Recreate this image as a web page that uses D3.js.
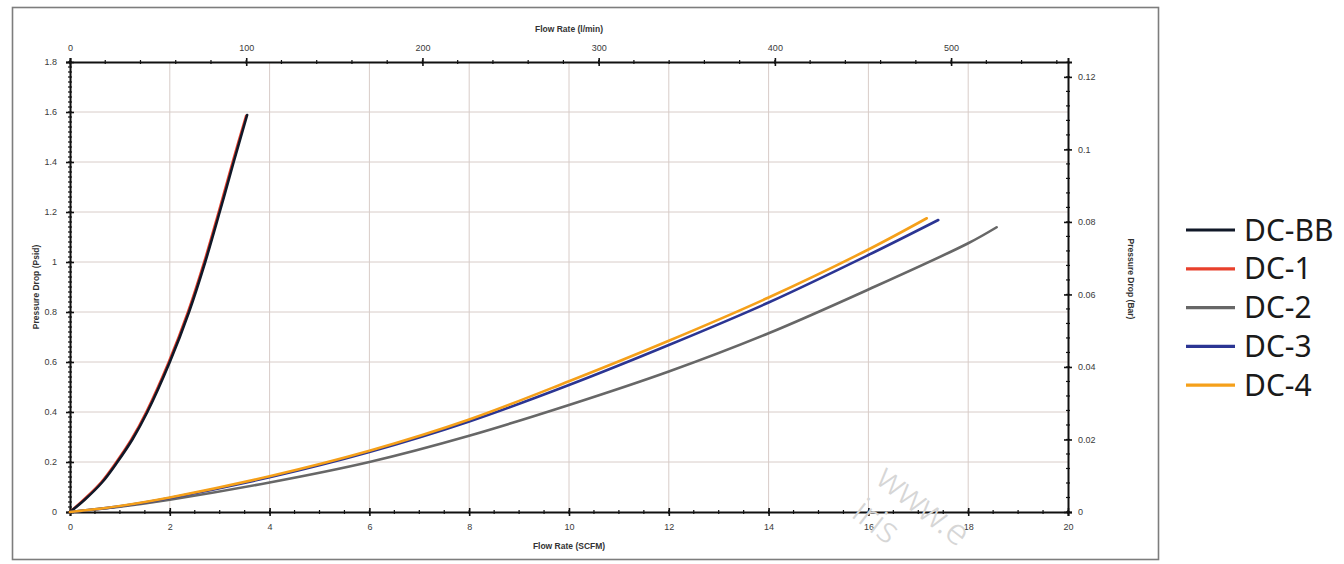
<!DOCTYPE html>
<html>
<head>
<meta charset="utf-8">
<script src="https://cdn.jsdelivr.net/npm/d3@7"></script>
<style>
    body { margin: 0; background: #fff; }
    .tick text { font-family: "Liberation Sans", sans-serif; font-size: 9px; fill: #3a3a3a; }
    .axis-title { font-family: "Liberation Sans", sans-serif; font-size: 8.5px; font-weight: bold; fill: #333; }
    .legend text { font-family: "Noto Sans", sans-serif; font-size: 30px; fill: #1a1a1a; }
</style>
</head>
<body>
<div id="chart"></div>
<script>
// series names & colours
const seriesNames = ['DC-BB', 'DC-1', 'DC-2', 'DC-3', 'DC-4'];
const seriesColors = ['#101828', '#e8402c', '#676767', '#2b3593', '#f5a01a'];

// flow rate (SCFM) / pressure drop (psid)
const dcBBFlow = [0, 0.3, 0.65, 0.95, 1.25, 1.55, 2.0, 2.385, 2.71, 3.0, 3.28, 3.55];
const dcBBDrop = [0, 0.05, 0.12, 0.2, 0.29, 0.4, 0.6, 0.8, 1.0, 1.2, 1.4, 1.588];
const dc1Flow = [0, 0.28, 0.63, 0.93, 1.23, 1.53, 1.98, 2.365, 2.69, 2.98, 3.26, 3.53];
const dc1Drop = [0, 0.05, 0.12, 0.2, 0.29, 0.4, 0.6, 0.8, 1.0, 1.2, 1.4, 1.585];
const dc2Flow = [0, 1, 2, 4, 6, 8, 10, 12, 14, 16, 18, 18.57];
const dc2Drop = [0, 0.021, 0.049, 0.118, 0.2, 0.305, 0.428, 0.562, 0.715, 0.89, 1.075, 1.139];
const dc3Flow = [0, 1, 2, 4, 6, 8, 10, 12, 14, 16, 17.4];
const dc3Drop = [0, 0.023, 0.056, 0.139, 0.24, 0.362, 0.508, 0.668, 0.838, 1.028, 1.168];
const dc4Flow = [0, 1, 2, 4, 6, 8, 10, 12, 14, 16, 17.17];
const dc4Drop = [0, 0.024, 0.058, 0.143, 0.245, 0.37, 0.523, 0.685, 0.858, 1.05, 1.175];

// axis ticks
const scfmTicks = [0, 2, 4, 6, 8, 10, 12, 14, 16, 18, 20];
const lpmTicks = [0, 100, 200, 300, 400, 500];
const psidTicks = [0, 0.2, 0.4, 0.6, 0.8, 1, 1.2, 1.4, 1.6, 1.8];
const barTicks = [0, 0.02, 0.04, 0.06, 0.08, 0.1, 0.12];

const LPM_PER_SCFM = 28.3168;
const BAR_PER_PSI = 0.0689476;

class PressureChart {
    constructor(_config) {
        this.config = {
            parentElement: _config.parentElement,
            containerWidth: _config.containerWidth || 1344,
            containerHeight: _config.containerHeight || 564,
            margin: _config.margin || { top: 62, right: 276, bottom: 52, left: 70 }
        }
        const values = [[dcBBFlow, dcBBDrop], [dc1Flow, dc1Drop], [dc2Flow, dc2Drop], [dc3Flow, dc3Drop], [dc4Flow, dc4Drop]];
        this.series = seriesNames.map((name, i) => ({
            name: name,
            color: seriesColors[i],
            points: d3.zip(values[i][0], values[i][1])
        }));
        this.initVis();
    }

    initVis() {
        let vis = this;
        vis.width = vis.config.containerWidth - vis.config.margin.left - vis.config.margin.right;
        vis.height = vis.config.containerHeight - vis.config.margin.top - vis.config.margin.bottom;

        vis.svg = d3.select(vis.config.parentElement).append('svg')
            .attr('width', vis.config.containerWidth)
            .attr('height', vis.config.containerHeight);

        // outer frame
        vis.svg.append('rect')
            .attr('x', 12.5).attr('y', 7.5)
            .attr('width', 1146).attr('height', 552)
            .attr('fill', 'none')
            .attr('stroke', '#7d7d7d')
            .attr('stroke-width', 1.6);

        vis.chart = vis.svg.append('g')
            .attr('transform', `translate(${vis.config.margin.left},${vis.config.margin.top})`);

        vis.x = d3.scaleLinear().domain([0, 20]).range([0, vis.width]);
        vis.xTop = d3.scaleLinear().domain([0, 20 * LPM_PER_SCFM]).range([0, vis.width]);
        vis.y = d3.scaleLinear().domain([0, 1.8]).range([vis.height, 0]);
        vis.yRight = d3.scaleLinear().domain([0, 1.8 * BAR_PER_PSI]).range([vis.height, 0]);

        vis.updateVis();
    }

    updateVis() {
        let vis = this;
        vis.line = d3.line()
            .x(d => vis.x(d[0]))
            .y(d => vis.y(d[1]))
            .curve(d3.curveCatmullRom.alpha(0.5));
        vis.renderVis();
    }

    renderVis() {
        let vis = this;

        // grid
        vis.chart.append('g')
            .selectAll('line')
            .data(scfmTicks.slice(1, -1))
            .join('line')
            .attr('x1', d => vis.x(d)).attr('x2', d => vis.x(d))
            .attr('y1', 0).attr('y2', vis.height)
            .attr('stroke', '#d8ccc8').attr('stroke-width', 1);
        vis.chart.append('g')
            .selectAll('line')
            .data(psidTicks.slice(1, -1))
            .join('line')
            .attr('x1', 0).attr('x2', vis.width)
            .attr('y1', d => vis.y(d)).attr('y2', d => vis.y(d))
            .attr('stroke', '#d8ccc8').attr('stroke-width', 1);

        // minor ticks
        const minor = (g, scale, step, max, orient) => {
            const vals = d3.range(0, max + 1e-9, step);
            g.selectAll('line.minor').data(vals).join('line')
                .attr('class', 'minor')
                .attr('stroke', '#111').attr('stroke-width', 1.2)
                .each(function (d) {
                    const s = d3.select(this);
                    if (orient === 'h') s.attr('x1', scale(d)).attr('x2', scale(d)).attr('y1', -2).attr('y2', 2);
                    else s.attr('y1', scale(d)).attr('y2', scale(d)).attr('x1', -2).attr('x2', 2);
                });
        };
        const fmt = d => String(+d.toFixed(2));

        // bottom axis
        const gBottom = vis.chart.append('g').attr('transform', `translate(0,${vis.height})`);
        minor(gBottom, vis.x, 0.5, 20, 'h');
        gBottom.call(d3.axisBottom(vis.x).tickValues(scfmTicks).tickFormat(d3.format('d')).tickSize(4).tickPadding(8));

        // top axis
        const gTop = vis.chart.append('g');
        minor(gTop, vis.xTop, 20, 20 * LPM_PER_SCFM, 'h');
        gTop.call(d3.axisTop(vis.xTop).tickValues(lpmTicks).tickFormat(d3.format('d')).tickSize(4).tickPadding(7));

        // left axis
        const gLeft = vis.chart.append('g');
        minor(gLeft, vis.y, 0.02, 1.8, 'v');
        gLeft.call(d3.axisLeft(vis.y).tickValues(psidTicks).tickFormat(fmt).tickSize(4).tickPadding(9));

        // right axis
        const gRight = vis.chart.append('g').attr('transform', `translate(${vis.width},0)`);
        minor(gRight, vis.yRight, 0.004, 1.8 * BAR_PER_PSI, 'v');
        gRight.call(d3.axisRight(vis.yRight).tickValues(barTicks).tickFormat(fmt).tickSize(4).tickPadding(6));

        [gBottom, gTop, gLeft, gRight].forEach(g => {
            g.select('.domain').attr('stroke', '#111').attr('stroke-width', 2);
            g.selectAll('.tick line').attr('stroke', '#111').attr('stroke-width', 1.6);
        });
        // major ticks cross the axis line
        gBottom.selectAll('.tick line').attr('y1', -4).attr('y2', 4);
        gTop.selectAll('.tick line').attr('y1', -4).attr('y2', 4);
        gLeft.selectAll('.tick line').attr('x1', -4).attr('x2', 4);
        gRight.selectAll('.tick line').attr('x1', -4).attr('x2', 4);

        // axis titles
        vis.chart.append('text').attr('class', 'axis-title')
            .attr('x', vis.width / 2).attr('y', -30).attr('text-anchor', 'middle')
            .text('Flow Rate (l/min)');
        vis.chart.append('text').attr('class', 'axis-title')
            .attr('x', vis.width / 2).attr('y', vis.height + 37).attr('text-anchor', 'middle')
            .text('Flow Rate (SCFM)');
        vis.chart.append('text').attr('class', 'axis-title')
            .attr('transform', `translate(-31,${vis.height / 2}) rotate(-90)`)
            .attr('text-anchor', 'middle')
            .text('Pressure Drop (Psid)');
        vis.chart.append('text').attr('class', 'axis-title')
            .attr('transform', `translate(${vis.width + 60},${vis.height / 2 - 8}) rotate(90)`)
            .attr('text-anchor', 'middle')
            .text('Pressure Drop (Bar)');

        // watermark
        const wm = vis.svg.append('g').attr('fill', '#d6d6d6').attr('font-family', 'Noto Sans, sans-serif')
            .attr('font-size', 36).attr('font-weight', 300);
        wm.append('text').attr('transform', 'translate(874,482) rotate(38)').text('www.e');
        wm.append('text').attr('transform', 'translate(850,516) rotate(38)').text('iris');

        // curves (red first, black on top of it)
        const order = [1, 0, 2, 3, 4];
        vis.chart.append('g')
            .selectAll('path')
            .data(order.map(i => vis.series[i]))
            .join('path')
            .attr('d', d => vis.line(d.points))
            .attr('fill', 'none')
            .attr('stroke', d => d.color)
            .attr('stroke-width', 2.6)
            .attr('stroke-linecap', 'round');

        // legend
        vis.legend = vis.svg.append('g').attr('class', 'legend')
            .attr('transform', 'translate(1186,230)');
        const item = vis.legend.selectAll('g')
            .data(vis.series)
            .join('g')
            .attr('transform', (d, i) => `translate(0,${i * 38.8})`);
        item.append('line')
            .attr('x1', 0).attr('x2', 49)
            .attr('stroke', d => d.color)
            .attr('stroke-width', 3.2);
        item.append('text')
            .attr('x', 58).attr('dy', '0.35em')
            .text(d => d.name);
    }
}

new PressureChart({ parentElement: '#chart' });
</script>
</body>
</html>
